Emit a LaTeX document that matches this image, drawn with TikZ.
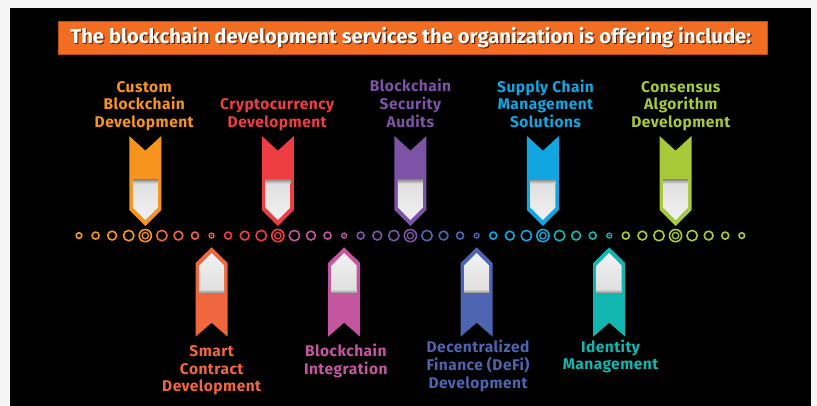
\documentclass[tikz,border=0pt]{standalone}
\usepackage{fontspec}
\usepackage{graphicx}
\setmainfont{Fira Sans}
\newfontfamily\lblfont[LetterSpace=3]{Fira Sans}
\definecolor{pagebg}{RGB}{245,245,245}
\definecolor{banner}{RGB}{242,108,33}
\definecolor{bannerline}{RGB}{190,78,20}
\definecolor{cCustom}{RGB}{247,148,29}
\definecolor{cSmart}{RGB}{240,102,62}
\definecolor{cCrypto}{RGB}{238,61,67}
\definecolor{cInteg}{RGB}{196,86,160}
\definecolor{cSec}{RGB}{124,83,165}
\definecolor{cDefi}{RGB}{77,100,176}
\definecolor{cSupply}{RGB}{17,166,225}
\definecolor{cIdent}{RGB}{16,182,175}
\definecolor{cCons}{RGB}{168,201,58}
\definecolor{pnlA}{RGB}{150,150,150}
\definecolor{pnlB}{RGB}{222,222,222}
\definecolor{pnlC}{RGB}{242,242,242}
\colorlet{dc0}{cCustom}\colorlet{dc1}{cCustom}\colorlet{dc2}{cSmart}
\colorlet{dc3}{cCrypto}\colorlet{dc4}{cInteg}\colorlet{dc5}{cSec}
\colorlet{dc6}{cDefi}\colorlet{dc7}{cSupply}\colorlet{dc8}{cIdent}
\colorlet{dc9}{cCons}\colorlet{dc10}{cCons}
\tikzset{
  lbl/.style={inner sep=0pt, anchor=base, font=\lblfont\bfseries\fontsize{15.5}{17.5}\selectfont},
  ring/.style={draw=#1, line width=1.6pt},
}
\newcommand\lines[2]{\begin{tabular}[#1]{@{}c@{}}#2\end{tabular}}
\begin{document}
\begin{tikzpicture}[x=1pt,y=-1pt]
\useasboundingbox (0,0) rectangle (817,406);
\fill[pagebg] (0,0) rectangle (817,406);
\fill[black] (10,8) rectangle (811,406);
% banner
\filldraw[fill=banner, draw=bannerline, line width=0.8pt] (58,21) rectangle (767,54);
\node[inner sep=0pt, anchor=base, text=black, opacity=0.65] (titleshadow) at (412,44.6)
  {\resizebox{681pt}{\height}{\bfseries\fontsize{20}{24}\selectfont The blockchain development services the organization is offering include:}};
\node[inner sep=0pt, anchor=base, text=white] (title) at (410.8,43.3)
  {\resizebox{681pt}{\height}{\bfseries\fontsize{20}{24}\selectfont The blockchain development services the organization is offering include:}};
% top ribbons
\foreach \cx/\cc in {145.28/cCustom, 277.84/cCrypto, 410.4/cSec, 542.96/cSupply, 675.52/cCons}{
  \begin{scope}[shift={(\cx,0)}]
    \fill[\cc] (-16,136) -- (0,150.7) -- (16,136) -- (16,210) -- (0,226) -- (-16,210) -- cycle;
    \shade[top color=pnlB, bottom color=pnlC] (-12.5,180) -- (12.5,180) -- (12.5,207.5) -- (0,220) -- (-12.5,207.5) -- cycle;
    \shade[top color=pnlA, bottom color=pnlB] (-12.5,180) rectangle (12.5,183.5);
  \end{scope}
}
% bottom ribbons
\foreach \cx/\cc in {211.56/cSmart, 344.12/cInteg, 476.68/cDefi, 609.24/cIdent}{
  \begin{scope}[shift={(\cx,0)}]
    \fill[\cc] (0,247.3) -- (16,263) -- (16,336.7) -- (0,322.7) -- (-16,336.7) -- (-16,263) -- cycle;
    \shade[top color=pnlC, bottom color=pnlB] (0,253) -- (12.5,265.5) -- (12.5,292.7) -- (-12.5,292.7) -- (-12.5,265.5) -- cycle;
    \shade[top color=pnlB, bottom color=pnlA] (-12.5,289.2) rectangle (12.5,292.7);
  \end{scope}
}
% dotted timeline
\foreach \i in {0,...,40}{
  \pgfmathsetmacro\xx{79+\i*16.57}
  \pgfmathtruncatemacro\g{(\i+3)/4}
  \pgfmathtruncatemacro\m{mod(\i,8)}
  \ifcase\m
    \ifnum\i=0 \draw[ring=dc\g] (\xx,235.6) circle[radius=2.8pt];
    \else\ifnum\i=40 \draw[ring=dc\g] (\xx,235.6) circle[radius=2.8pt];
    \else \draw[ring=dc\g, line width=1.3pt] (\xx,235.6) circle[radius=2.5pt];
          \fill[dc\g] (\xx,235.6) circle[radius=0.9pt];
    \fi\fi
  \or \draw[ring=dc\g] (\xx,235.6) circle[radius=3.5pt];
  \or \draw[ring=dc\g] (\xx,235.6) circle[radius=4.4pt];
  \or \draw[ring=dc\g] (\xx,235.6) circle[radius=5.2pt];
  \or \draw[ring=dc\g] (\xx,235.6) circle[radius=6.1pt];
      \draw[ring=dc\g, line width=1.3pt] (\xx,235.6) circle[radius=3.2pt];
  \or \draw[ring=dc\g] (\xx,235.6) circle[radius=5.2pt];
  \or \draw[ring=dc\g] (\xx,235.6) circle[radius=4.4pt];
  \or \draw[ring=dc\g] (\xx,235.6) circle[radius=3.5pt];
  \fi
}
% labels
\node[lbl, text=cCustom] (custom) at (144.2,127.4) {\lines{b}{Custom\\Blockchain\\Development}};
\node[lbl, text=cCrypto] (crypto) at (277.2,127.4) {\lines{b}{Cryptocurrency\\Development}};
\node[lbl, text=cSec] (security) at (410.4,127.4) {\lines{b}{Blockchain\\Security\\Audits}};
\node[lbl, text=cSupply] (supply) at (545.5,127.4) {\lines{b}{Supply Chain\\Management\\Solutions}};
\node[lbl, text=cCons] (consensus) at (680.8,127.4) {\lines{b}{Consensus\\Algorithm\\Development}};
\node[lbl, text=cSmart] (smart) at (211.7,356.7) {\lines{t}{Smart\\Contract\\Development}};
\node[lbl, text=cInteg] (integ) at (345.8,356.7) {\lines{t}{Blockchain\\Integration}};
\node[lbl, text=cDefi] (defi) at (478,352.4) {\lines{t}{Decentralized\\Finance (DeFi)\\Development}};
\node[lbl, text=cIdent] (ident) at (610.5,352.4) {\lines{t}{Identity\\Management}};
\end{tikzpicture}
\end{document}
